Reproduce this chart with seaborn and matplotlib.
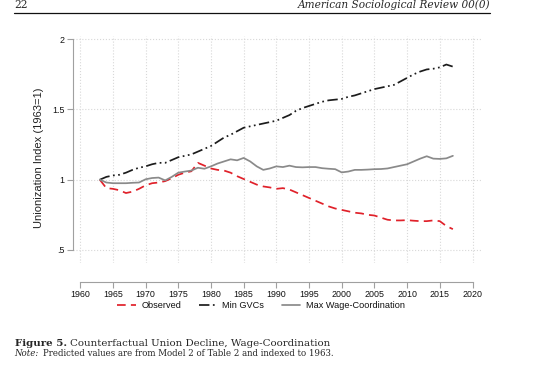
import pandas as pd
import seaborn as sns
import matplotlib.pyplot as plt
from matplotlib.lines import Line2D

# values, one per year 1963-2017
years = list(range(1963, 2018))
observed = [1.00, 0.94, 0.935, 0.925, 0.905, 0.915, 0.935, 0.96, 0.975, 0.98,
            0.99, 1.01, 1.035, 1.05, 1.06, 1.12, 1.10, 1.08, 1.07, 1.065,
            1.05, 1.025, 1.005, 0.985, 0.965, 0.952, 0.945, 0.935, 0.94, 0.93,
            0.91, 0.89, 0.87, 0.85, 0.83, 0.81, 0.795, 0.785, 0.775, 0.765,
            0.76, 0.75, 0.745, 0.73, 0.715, 0.71, 0.71, 0.712, 0.708, 0.705,
            0.705, 0.71, 0.705, 0.67, 0.648]
min_gvcs = [1.00, 1.02, 1.03, 1.035, 1.05, 1.07, 1.085, 1.095, 1.11, 1.12,
            1.12, 1.14, 1.16, 1.17, 1.18, 1.20, 1.22, 1.24, 1.27, 1.30,
            1.32, 1.345, 1.37, 1.38, 1.39, 1.40, 1.41, 1.42, 1.44, 1.46,
            1.49, 1.51, 1.525, 1.54, 1.555, 1.565, 1.57, 1.575, 1.59, 1.60,
            1.615, 1.63, 1.645, 1.655, 1.665, 1.675, 1.70, 1.725, 1.75, 1.77,
            1.785, 1.79, 1.80, 1.82, 1.805]
max_wage = [1.00, 0.98, 0.975, 0.975, 0.975, 0.978, 0.98, 1.003, 1.012, 1.015,
            0.995, 1.02, 1.05, 1.058, 1.065, 1.085, 1.078, 1.095, 1.115, 1.13,
            1.145, 1.138, 1.155, 1.13, 1.095, 1.07, 1.08, 1.095, 1.09, 1.10,
            1.09, 1.088, 1.09, 1.09, 1.082, 1.078, 1.075, 1.052, 1.058, 1.07,
            1.07, 1.072, 1.075, 1.076, 1.08, 1.09, 1.10, 1.11, 1.13, 1.15,
            1.167, 1.15, 1.148, 1.152, 1.17]

series_names = ["Observed", "Min GVCs", "Max Wage-Coordination"]
xticks = list(range(1960, 2021, 5))
yticks = [0.5, 1, 1.5, 2]
ytick_labels = [".5", "1", "1.5", "2"]

palette = {"Observed": "#e0212a", "Min GVCs": "#1c1c1c", "Max Wage-Coordination": "#8a8a8a"}
dashes = {"Observed": (5, 3), "Min GVCs": (6, 2, 1, 2, 1, 2), "Max Wage-Coordination": ""}

df = pd.DataFrame({
    "year": years * 3,
    "index": observed + min_gvcs + max_wage,
    "series": [n for n in series_names for _ in years],
})

sns.set_theme(style="white")
plt.rcParams["font.family"] = ["Liberation Sans Narrow", "Liberation Sans", "DejaVu Sans"]

fig = plt.figure(figsize=(5.38, 3.86), dpi=100)
ax = fig.add_axes([73 / 538, (386 - 263) / 386, (481 - 73) / 538, (263 - 36) / 386])

sns.lineplot(data=df, x="year", y="index", hue="series", style="series",
             palette=palette, dashes=dashes, linewidth=1.25, ax=ax)

ax.set_xlim(1958.9, 2021.3)
ax.set_ylim(0.407, 2.023)
ax.set_xticks(xticks)
ax.set_yticks(yticks, labels=ytick_labels)
ax.grid(True, linestyle=":", color="#d8d8d8", linewidth=0.8)

sns.despine(ax=ax)
for side in ["left", "bottom"]:
    ax.spines[side].set_color("#a0a0a0")
    ax.spines[side].set_linewidth(0.8)
ax.spines["left"].set_bounds(0.5, 2)
ax.spines["bottom"].set_bounds(1960, 2020)
ax.spines["bottom"].set_position(("outward", 13.7))
ax.tick_params(bottom=True, left=True, length=4, width=0.8, color="#a0a0a0",
               labelsize=6.4, pad=2, labelcolor="#111111")

ax.set_xlabel("")
ax.set_ylabel("Unionization Index (1963=1)", fontsize=8, color="#222222")
ax.yaxis.set_label_coords(-0.07, 0.465)

handles, labels = ax.get_legend_handles_labels()
ax.legend(handles, labels, ncol=3, frameon=False, fontsize=6.6,
          loc="center", bbox_to_anchor=(261 / 538, 1 - 306 / 386),
          bbox_transform=fig.transFigure, handlelength=2.0, columnspacing=1.9,
          handletextpad=0.6, labelcolor="#111111")

# page header and caption
serif = "DejaVu Serif"
fig.add_artist(Line2D([14 / 538, 490 / 538], [1 - 12.5 / 386] * 2,
                      transform=fig.transFigure, color="#111111", linewidth=0.9))
fig.text(14 / 538, 1 - 8.5 / 386, "22", family=serif, fontsize=7.6, va="baseline")
fig.text(490 / 538, 1 - 8.5 / 386, "American Sociological Review 00(0)", family=serif,
         style="italic", fontsize=7.6, ha="right", va="baseline")
fig.text(15 / 538, 1 - 346 / 386, "Figure 5.", family=serif, weight="bold",
         fontsize=7.4, va="baseline")
fig.text(70 / 538, 1 - 346 / 386, "Counterfactual Union Decline, Wage-Coordination",
         family=serif, fontsize=7.4, va="baseline")
fig.text(14 / 538, 1 - 356 / 386, "Note:", family=serif, style="italic",
         fontsize=6.2, va="baseline")
fig.text(43 / 538, 1 - 356 / 386,
         "Predicted values are from Model 2 of Table 2 and indexed to 1963.",
         family=serif, fontsize=6.2, va="baseline")

fig.savefig("out.png", dpi=100, facecolor="white")
